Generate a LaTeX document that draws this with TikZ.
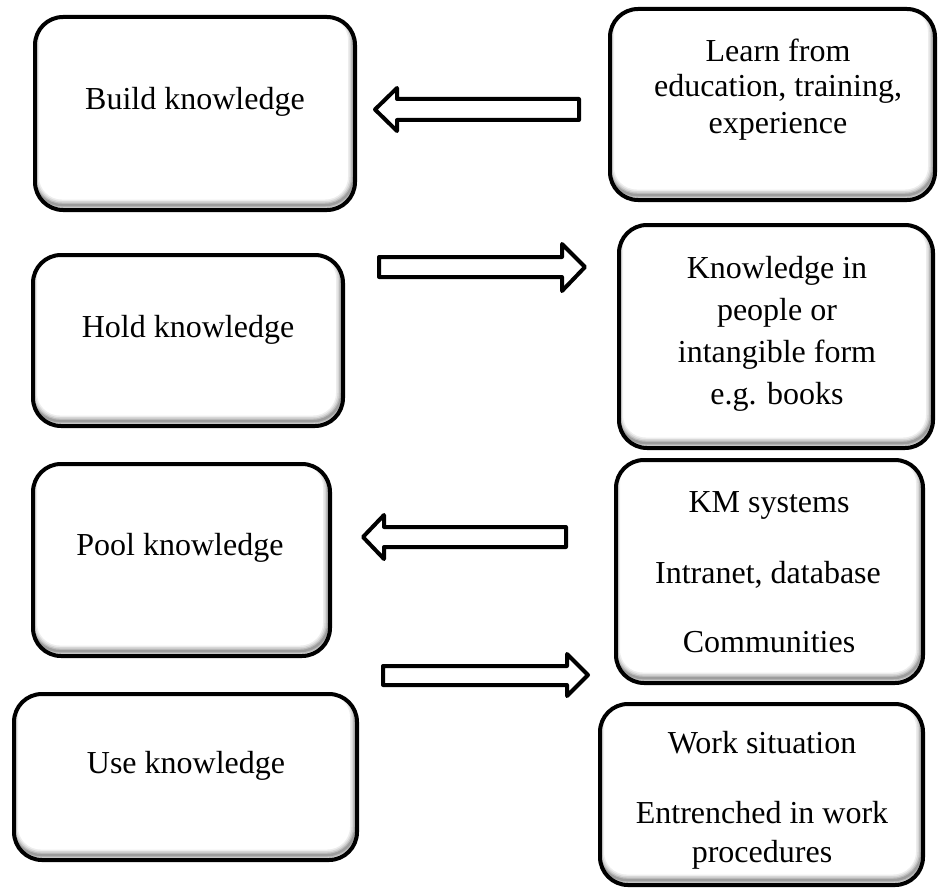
\documentclass[tikz,border=0pt]{standalone}
\usepackage{fontspec}
\setmainfont{Liberation Serif}
\begin{document}
\begin{tikzpicture}[x=1pt,y=-1pt,
  kbox/.style={draw=black, line width=4pt, rounded corners=28pt, fill=white,
    inner sep=0pt, outer sep=0pt,
    path picture={
      \foreach \w/\o in {11/0.07, 8/0.09, 5/0.12, 2.5/0.16}{
        \draw[line width=\w pt, black, opacity=\o, rounded corners=28pt]
          ([shift={(-1.5,-5)}]path picture bounding box.south west) rectangle
          ([shift={(-1.5,-5)}]path picture bounding box.north east);
      }
    }},
  lbl/.style={font=\fontsize{32}{36}\selectfont, anchor=base, inner sep=0pt},
  barrow/.style={draw=black, line width=4pt, line join=round, fill=white}]
\useasboundingbox (0,0) rectangle (939,888);

% left column: stages
\node[kbox, minimum width=320pt, minimum height=193pt] (build) at (195,113.5) {};
\node[kbox, minimum width=310pt, minimum height=171pt] (hold)  at (188,340.5) {};
\node[kbox, minimum width=297pt, minimum height=192pt] (pool)  at (181.5,560) {};
\node[kbox, minimum width=343pt, minimum height=166pt] (use)   at (185.5,777) {};

% right column: sources and places
\node[kbox, minimum width=325pt, minimum height=191pt] (learn) at (772.5,104.5) {};
\node[kbox, minimum width=314pt, minimum height=223pt] (know)  at (776,336.5) {};
\node[kbox, minimum width=307pt, minimum height=223pt] (km)    at (769.5,571.5) {};
\node[kbox, minimum width=323pt, minimum height=181pt] (work)  at (761.5,794.5) {};

% labels
\node[lbl] (build-t) at (195,110) {Build knowledge};
\node[lbl] (hold-t)  at (188,337) {Hold knowledge};
\node[lbl] (pool-t)  at (180,555) {Pool knowledge};
\node[lbl] (use-t)   at (186,773) {Use knowledge};

\node[lbl] (learn-a) at (778,62)  {Learn from};
\node[lbl] (learn-b) at (778,97)  {education, training,};
\node[lbl] (learn-c) at (778,133) {experience};

\node[lbl] (know-a) at (777,278) {Knowledge in};
\node[lbl] (know-b) at (777,320) {people or};
\node[lbl] (know-c) at (777,362) {intangible form};
\node[lbl] (know-d) at (777,404) {e.g. books};

\node[lbl] (km-a) at (769,512) {KM systems};
\node[lbl] (km-b) at (768,583) {Intranet, database};
\node[lbl] (km-c) at (769,652) {Communities};

\node[lbl] (work-a) at (762,753) {Work situation};
\node[lbl] (work-b) at (762,823) {Entrenched in work};
\node[lbl] (work-c) at (762,862) {procedures};

% block arrows between the columns
\draw[barrow] (375,109.5) -- (397,88) -- (397,99) -- (579,99) -- (579,120)
  -- (397,120) -- (397,131) -- cycle;
\draw[barrow] (585,267) -- (562,244) -- (562,257) -- (379,257) -- (379,277)
  -- (562,277) -- (562,291) -- cycle;
\draw[barrow] (363,537) -- (384,515) -- (384,527) -- (566,527) -- (566,547)
  -- (384,547) -- (384,559) -- cycle;
\draw[barrow] (588,675) -- (567,654) -- (567,666) -- (383,666) -- (383,685)
  -- (567,685) -- (567,696) -- cycle;
\end{tikzpicture}
\end{document}
